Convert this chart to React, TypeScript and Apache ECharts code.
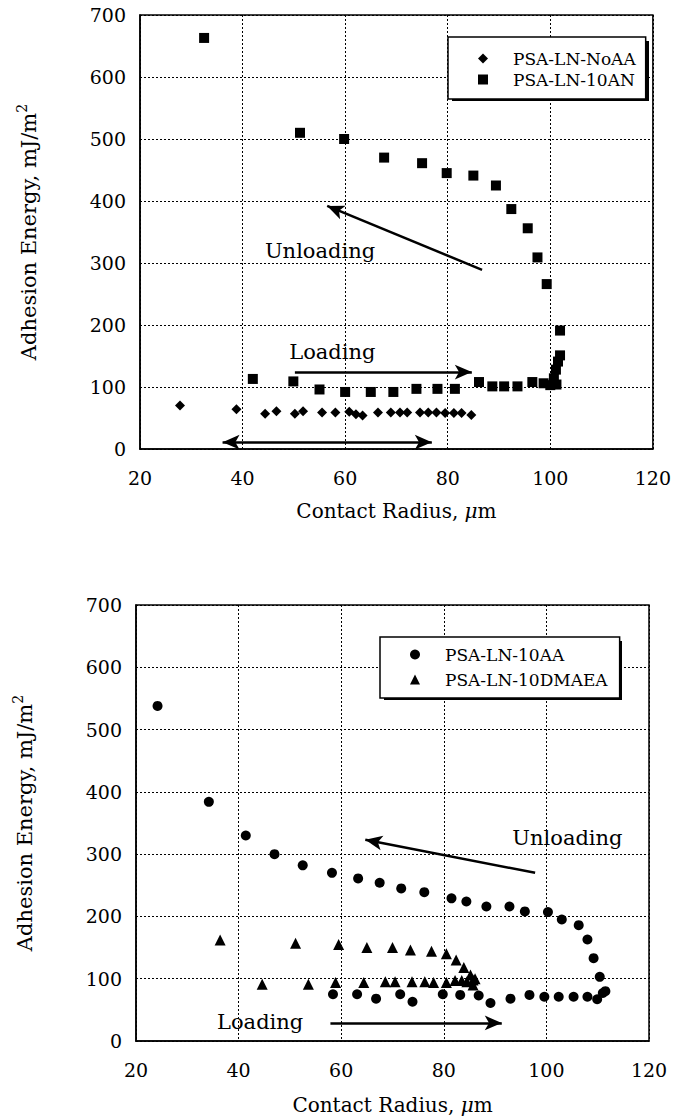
import React, { useEffect, useRef } from "react";
import * as echarts from "echarts";

// ---- Data: top panel ----
const noAAx = [27.8, 38.8, 44.4, 46.6, 50.2, 51.8, 55.5, 58.1, 60.8, 62.1, 63.4, 66.4, 68.9, 70.7, 72.1, 74.6, 76.2, 77.8, 79.5, 81.2, 82.7, 84.6];
const noAAy = [70, 64, 57, 61, 57, 61, 59, 59, 60, 56, 54, 59, 59, 59, 59, 59, 59, 59, 58, 58, 58, 55];

const an10x = [42.0, 49.9, 55.0, 60.0, 65.0, 69.4, 73.9, 78.0, 81.4, 86.1, 88.7, 91.0, 93.6, 96.5, 98.7, 100.0, 101.2, 100.7, 101.1, 101.5, 101.9, 101.9,
  99.3, 97.5, 95.6, 92.4, 89.4, 85.0, 79.8, 75.0, 67.6, 59.8, 51.2, 32.5];
const an10y = [113, 109, 96, 92, 92, 92, 97, 97, 97, 108, 101, 101, 101, 108, 106, 103, 104, 114, 128, 141, 151, 191,
  266, 309, 356, 387, 425, 441, 445, 461, 470, 500, 510, 663];

// ---- Data: bottom panel ----
const aa10x = [24.2, 34.2, 41.4, 47.0, 52.5, 58.2, 63.3, 67.5, 71.7, 76.2, 81.5, 84.4, 88.3, 92.8, 95.8, 100.3, 103.0, 106.3, 108.0, 109.2, 110.4,
  58.4, 63.1, 66.8, 71.5, 73.9, 79.8, 83.2, 86.8, 89.1, 93.0, 96.7, 99.6, 102.4, 105.3, 108.0, 109.9, 111.0, 111.5];
const aa10y = [538, 384, 330, 300, 282, 270, 261, 254, 245, 239, 229, 224, 216, 216, 208, 207, 195, 186, 163, 133, 103,
  75, 75, 68, 75, 63, 75, 74, 73, 61, 68, 74, 71, 71, 71, 71, 67, 77, 80];

const dmaeaX = [36.4, 51.1, 59.5, 65.0, 70.0, 73.5, 77.6, 80.5, 82.4, 83.9, 85.2, 85.7,
  44.6, 53.6, 58.9, 64.4, 68.6, 70.5, 73.8, 76.3, 78.0, 80.5, 82.2, 83.5, 84.5, 85.7, 86.1];
const dmaeaY = [162, 157, 155, 150, 150, 146, 144, 140, 130, 118, 106, 98,
  91, 91, 94, 94, 95, 95, 95, 95, 94, 94, 97, 97, 95, 90, 100];

// ---- Axis ticks ----
const xMin = 20, xMax = 120, xStep = 20;
const yMin = 0, yMax = 700, yStep = 100;

// ---- Annotations (data coordinates) ----
const topArrows = [
  { from: [86.7, 289], to: [56.5, 392], both: false },
  { from: [50.2, 124], to: [84.7, 124], both: false },
  { from: [36.1, 11], to: [76.9, 11], both: true },
];
const topLabels = [
  { text: "Unloading", at: [55.1, 320] },
  { text: "Loading", at: [57.5, 157] },
];
const botArrows = [
  { from: [97.8, 270], to: [64.7, 323], both: false },
  { from: [57.9, 29], to: [91.3, 29], both: false },
];
const botLabels = [
  { text: "Unloading", at: [104.1, 326] },
  { text: "Loading", at: [44.2, 30.5] },
];

const FONT = "DejaVu Serif";
const zip = (xs: number[], ys: number[]) => xs.map((x, i) => [x, ys[i]]);

function xAxisFor(gridIndex: number, nameGap: number) {
  return {
    type: "value",
    gridIndex,
    min: xMin,
    max: xMax,
    interval: xStep,
    name: "{a|Contact Radius, }{i|μ}{a|m}",
    nameLocation: "middle",
    nameGap,
    nameTextStyle: {
      rich: {
        a: { fontFamily: FONT, fontSize: 20, color: "#000" },
        i: { fontFamily: FONT, fontSize: 20, color: "#000", fontStyle: "italic" },
      },
    },
    axisLine: { show: true, onZero: false, lineStyle: { color: "#000", width: 1.5 } },
    axisTick: { show: false },
    axisLabel: { color: "#000", fontSize: 19, fontFamily: FONT, margin: 19 },
    splitLine: { show: true, lineStyle: { color: "#000", width: 1, type: [2, 2] } },
  };
}

function yAxisFor(gridIndex: number) {
  return {
    type: "value",
    gridIndex,
    min: yMin,
    max: yMax,
    interval: yStep,
    name: "{a|Adhesion Energy, mJ/m}{s|2}",
    nameLocation: "middle",
    nameGap: 97,
    nameTextStyle: {
      rich: {
        a: { fontFamily: FONT, fontSize: 21, color: "#000", lineHeight: 28 },
        s: { fontFamily: FONT, fontSize: 14, color: "#000", verticalAlign: "top", lineHeight: 28 },
      },
    },
    axisLine: { show: true, lineStyle: { color: "#000", width: 1.5 } },
    axisTick: { show: false },
    axisLabel: { color: "#000", fontSize: 19, fontFamily: FONT, margin: 14 },
    splitLine: { show: true, lineStyle: { color: "#000", width: 1, type: [2, 2] } },
  };
}

function markLineFor(arrows: { from: number[]; to: number[]; both: boolean }[]) {
  return {
    silent: true,
    animation: false,
    label: { show: false },
    lineStyle: { color: "#000", width: 2.5, type: "solid", opacity: 1 },
    emphasis: { disabled: true },
    symbolSize: [11, 17],
    data: arrows.map((a) => [
      { coord: a.from, symbol: a.both ? "arrow" : "none" },
      { coord: a.to, symbol: "arrow" },
    ]),
  };
}

function markPointFor(labels: { text: string; at: number[] }[]) {
  return {
    silent: true,
    animation: false,
    symbol: "circle",
    symbolSize: 1,
    itemStyle: { color: "rgba(0,0,0,0)" },
    data: labels.map((l) => ({
      coord: l.at,
      label: {
        show: true,
        position: "inside",
        formatter: l.text,
        color: "#000",
        fontFamily: FONT,
        fontSize: 21,
      },
    })),
  };
}

function legendFor(names: string[], left: number, top: number, itemGap: number, padding: number[]) {
  return {
    data: names,
    orient: "vertical",
    left,
    top,
    z: 5,
    itemGap,
    itemWidth: 10,
    itemHeight: 10,
    padding,
    backgroundColor: "#fff",
    borderColor: "#000",
    borderWidth: 1.5,
    borderRadius: 0,
    selectedMode: false,
    textStyle: { fontFamily: FONT, fontSize: 17, color: "#000", padding: [0, 0, 0, 20] },
  };
}

// legend drop shadows (pixel boxes, offset behind each legend)
const legendShadows = [
  { x: 452, y: 41, width: 197, height: 60 },
  { x: 384, y: 641, width: 238, height: 59 },
];

export default function App() {
  const ref = useRef<HTMLDivElement>(null);
  useEffect(() => {
    if (!ref.current) return;
    const chart = echarts.init(ref.current, undefined, { renderer: "svg" });
    const markerStyle = { color: "#000", opacity: 1 };
    const option = {
      animation: false,
      backgroundColor: "#fff",
      textStyle: { fontFamily: FONT },
      grid: [
        { left: 140, top: 15, width: 513, height: 434, show: true, borderColor: "#000", borderWidth: 1.5, backgroundColor: "transparent" },
        { left: 136, top: 605, width: 513, height: 436, show: true, borderColor: "#000", borderWidth: 1.5, backgroundColor: "transparent" },
      ],
      graphic: legendShadows.map((s) => ({
        type: "rect",
        z: 4,
        silent: true,
        shape: { x: s.x, y: s.y, width: s.width, height: s.height },
        style: { fill: "#000" },
      })),
      xAxis: [xAxisFor(0, 52), xAxisFor(1, 54)],
      yAxis: [yAxisFor(0), yAxisFor(1)],
      legend: [
        legendFor(["PSA-LN-NoAA", "PSA-LN-10AN"], 448, 37, 4, [13, 10, 11, 30]),
        legendFor(["PSA-LN-10AA", "PSA-LN-10DMAEA"], 380, 637, 8, [9, 12, 10, 30]),
      ],
      series: [
        {
          name: "PSA-LN-NoAA",
          type: "scatter",
          xAxisIndex: 0,
          yAxisIndex: 0,
          symbol: "diamond",
          symbolSize: 10,
          itemStyle: markerStyle,
          data: zip(noAAx, noAAy),
          markLine: markLineFor(topArrows),
          markPoint: markPointFor(topLabels),
        },
        {
          name: "PSA-LN-10AN",
          type: "scatter",
          xAxisIndex: 0,
          yAxisIndex: 0,
          symbol: "rect",
          symbolSize: 10,
          itemStyle: markerStyle,
          data: zip(an10x, an10y),
        },
        {
          name: "PSA-LN-10AA",
          type: "scatter",
          xAxisIndex: 1,
          yAxisIndex: 1,
          symbol: "circle",
          symbolSize: 10,
          itemStyle: markerStyle,
          data: zip(aa10x, aa10y),
          markLine: markLineFor(botArrows),
          markPoint: markPointFor(botLabels),
        },
        {
          name: "PSA-LN-10DMAEA",
          type: "scatter",
          xAxisIndex: 1,
          yAxisIndex: 1,
          symbol: "triangle",
          symbolSize: 11,
          itemStyle: markerStyle,
          data: zip(dmaeaX, dmaeaY),
        },
      ],
    };
    chart.setOption(option as any);
    return () => chart.dispose();
  }, []);
  return (
    <div
      ref={ref}
      style={{ position: "absolute", left: 0, top: 0, width: 674, height: 1120, background: "#fff" }}
    />
  );
}
